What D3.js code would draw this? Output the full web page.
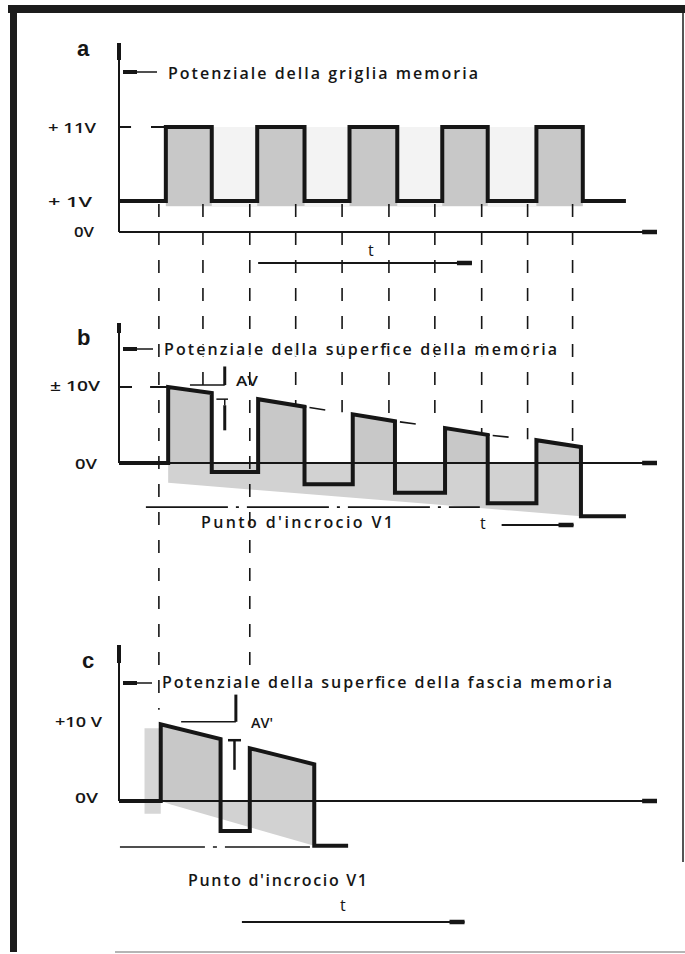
<!DOCTYPE html>
<html><head><meta charset="utf-8">
<script src="https://cdn.jsdelivr.net/npm/d3@7"></script>
<style>html,body{margin:0;padding:0;background:#fff;} svg{display:block}</style>
</head><body><svg id="c" width="685" height="954"></svg>
<script>
// ---------------- data ----------------
const panelLabels = ["a", "b", "c"];
const panelTitles = ["Potenziale della griglia memoria",
  "Potenziale della superfice della memoria",
  "Potenziale della superfice della fascia memoria"];
const aTickValues = [11, 1, 0];
const aTickLabels = ["+ 11V", "+ 1V", "0V"];
const bTickValues = [10, 0];
const bTickLabels = ["± 10V", "0V"];
const cTickValues = [10, 0];
const cTickLabels = ["+10 V", "0V"];
const crossLabel = "Punto d'incrocio V1";
const timeLabel = "t";

// panel a : grid potential (square wave, volts)
const aRise = [1.01, 2.98, 4.97, 6.97, 9.0];
const aFall = [2.0, 4.0, 6.0, 7.95, 10.0];
const aLow = 1, aHigh = 11, aEnd = 10.93;

// panel b : memory surface potential
const bRise = [1.06, 3.0, 5.04, 7.03, 9.0];
const bFall = [2.0, 4.0, 5.95, 7.95, 9.96];
const bTopStart = [10, 8.4, 6.4, 4.6, 3.0];
const bTopEnd = [9.2, 7.4, 5.5, 3.7, 2.1];
const bLow = [-1.2, -2.8, -3.9, -5.3, -7.0];
const bEnd = 10.93;
const bCross = -5.8;

// panel c : memory band surface potential
const cRise = [0.9, 2.82];
const cFall = [2.19, 4.21];
const cTopStart = [9.6, 6.6];
const cTopEnd = [7.75, 4.6];
const cLow = [-3.75, -5.6];
const cEnd = 4.94;
const cCross = -5.75;

// vertical dashed guide lines (time) and the two that reach panel c (volts in c)
const guideTimes = [0.86, 1.81, 2.82, 3.81, 4.81, 5.82, 6.81, 7.82, 8.81, 9.78];
const guideToC = [11.4, null, 17, null, null, null, null, null, null, null];

// ---------------- scales ----------------
const svg = d3.select("#c");
const x = d3.scaleLinear().domain([0, 11.6]).range([119, 657]);
const yA = d3.scaleLinear().domain([0, 1, 11]).range([232, 201, 127]);
const yB = d3.scaleLinear().domain([0, 10]).range([463, 387]);
const yC = d3.scaleLinear().domain([0, 10]).range([801, 721]);

const INK = "#161616", GREY = "#c8c8c8";
const FONT = "'Open Sans', 'Liberation Sans', Arial, sans-serif";
const FONT_B = "'Liberation Sans', Arial, sans-serif";

// ---------------- frame ----------------
svg.append("rect").attr("x", 8).attr("y", 5).attr("width", 677).attr("height", 8).attr("fill", "#1c1c1c");
svg.append("rect").attr("x", 10).attr("y", 12).attr("width", 7).attr("height", 940).attr("fill", "#1c1c1c");
svg.append("line").attr("x1", 683).attr("x2", 683).attr("y1", 13).attr("y2", 862).attr("stroke", "#555").attr("stroke-width", 2);
svg.append("line").attr("x1", 115).attr("x2", 685).attr("y1", 952).attr("y2", 952).attr("stroke", "#b5b5b5").attr("stroke-width", 2);

// ---------------- fills ----------------
const area = (y) => d3.line().x(d => x(d[0])).y(d => y(d[1]));
// a
svg.append("rect").attr("x", x(aRise[0])).attr("y", yA(aHigh)).attr("width", x(aFall[aFall.length-1]) - x(aRise[0]))
  .attr("height", yA(aLow) - yA(aHigh) + 6).attr("fill", "#f3f3f3");
aRise.forEach((r, i) => {
  svg.append("rect").attr("x", x(r)).attr("y", yA(aHigh)).attr("width", x(aFall[i]) - x(r))
    .attr("height", yA(aLow) - yA(aHigh) + 5).attr("fill", GREY);
});
// b
svg.append("path").attr("d", area(yB)([[bRise[0], 0], [bFall[4], 0], [bFall[4], bLow[4]], [bRise[0], -2.6]]) + "Z").attr("fill", "#d2d2d2");
bRise.forEach((r, i) => {
  svg.append("path").attr("d", area(yB)([[r, 0], [r, bTopStart[i]], [bFall[i], bTopEnd[i]], [bFall[i], 0]]) + "Z").attr("fill", GREY);
});
// c
svg.append("path").attr("d", area(yC)([[cRise[0] - 0.35, 9.1], [cRise[0], 9.1], [cRise[0], -1.6], [cRise[0] - 0.35, -1.6]]) + "Z").attr("fill", "#d6d6d6");
svg.append("path").attr("d", area(yC)([[cRise[0], 0], [cFall[1], 0], [cFall[1], cLow[1]], [cRise[0] + 0.2, -0.4]]) + "Z").attr("fill", "#d2d2d2");
cRise.forEach((r, i) => {
  svg.append("path").attr("d", area(yC)([[r, 0], [r, cTopStart[i]], [cFall[i], cTopEnd[i]], [cFall[i], 0]]) + "Z").attr("fill", GREY);
});

// ---------------- guides ----------------
const envB = t => bTopStart[0] + (bTopEnd[4] - bTopStart[0]) * (t - bRise[0]) / (bFall[4] - bRise[0]);
guideTimes.forEach((t, i) => {
  const y2 = guideToC[i] != null ? yC(guideToC[i]) : yB(envB(t));
  svg.append("line").attr("x1", x(t)).attr("x2", x(t)).attr("y1", yA(aLow) + 3).attr("y2", y2)
    .attr("stroke", INK).attr("stroke-width", 1.6).attr("stroke-dasharray", "13,15");
});
// dashed envelope between pulse tops in b
for (let i = 1; i < bRise.length - 1; i++) {
  svg.append("path").attr("d", area(yB)([[bFall[i], bTopEnd[i]], [bRise[i + 1], bTopStart[i + 1]]]))
    .attr("stroke", INK).attr("stroke-width", 1.6).attr("fill", "none").attr("stroke-dasharray", "2,3,16,40");
}
// level extensions
svg.append("path").attr("d", area(yA)([[0.69, aHigh], [aRise[0], aHigh]])).attr("stroke", INK).attr("stroke-width", 2);
svg.append("path").attr("d", area(yB)([[0.67, bTopStart[0]], [bRise[0], bTopStart[0]]])).attr("stroke", INK).attr("stroke-width", 2);
// crossing point (dash-dot)
svg.append("path").attr("d", area(yB)([[0.58, bCross], [7.78, bCross]])).attr("stroke", INK).attr("stroke-width", 1.6)
  .attr("stroke-dasharray", "82,8,3,8");
svg.append("path").attr("d", area(yC)([[0.02, cCross], [4.16, cCross]])).attr("stroke", INK).attr("stroke-width", 1.6)
  .attr("stroke-dasharray", "85,8,4,8");

// ---------------- axes ----------------
function axes(y, topPx, vTop) {
  svg.append("line").attr("x1", x(0)).attr("x2", x(0)).attr("y1", topPx).attr("y2", y(0)).attr("stroke", INK).attr("stroke-width", 2);
  svg.append("line").attr("x1", x(0)).attr("x2", x(0)).attr("y1", topPx).attr("y2", topPx + vTop).attr("stroke", INK).attr("stroke-width", 4);
  svg.append("line").attr("x1", x(0)).attr("x2", x(11.6)).attr("y1", y(0)).attr("y2", y(0)).attr("stroke", INK).attr("stroke-width", 2);
  svg.append("line").attr("x1", x(11.28)).attr("x2", x(11.6)).attr("y1", y(0)).attr("y2", y(0)).attr("stroke", INK).attr("stroke-width", 4.5);
}
axes(yA, 43, 17);
axes(yB, 323, 10);
axes(yC, 645, 18);
svg.append("line").attr("x1", x(0)).attr("x2", x(0.26)).attr("y1", yA(aHigh)).attr("y2", yA(aHigh)).attr("stroke", INK).attr("stroke-width", 2);
svg.append("line").attr("x1", x(0)).attr("x2", x(0.28)).attr("y1", yB(10)).attr("y2", yB(10)).attr("stroke", INK).attr("stroke-width", 2);

// title ticks
[[72, 157], [349, 153], [683, 152]].forEach(([yy, xe]) => {
  svg.append("line").attr("x1", 123).attr("x2", 137).attr("y1", yy).attr("y2", yy).attr("stroke", INK).attr("stroke-width", 4);
  svg.append("line").attr("x1", 135).attr("x2", xe).attr("y1", yy).attr("y2", yy).attr("stroke", INK).attr("stroke-width", 1.5);
});

// time arrows
function tArrow(yy, t1, t2) {
  svg.append("line").attr("x1", x(t1)).attr("x2", x(t2)).attr("y1", yy).attr("y2", yy).attr("stroke", INK).attr("stroke-width", 2);
  svg.append("line").attr("x1", x(t2) - 15).attr("x2", x(t2)).attr("y1", yy).attr("y2", yy).attr("stroke", INK).attr("stroke-width", 4.5);
}
tArrow(263, 3.0, 7.61);
tArrow(525, 8.25, 9.8);
tArrow(922, 2.65, 7.45);

// ---------------- waves ----------------
const aPts = [[0, aLow]];
aRise.forEach((r, i) => aPts.push([r, aLow], [r, aHigh], [aFall[i], aHigh], [aFall[i], aLow]));
aPts.push([aEnd, aLow]);
const bPts = [[0, 0]];
bRise.forEach((r, i) => bPts.push([r, i ? bLow[i - 1] : 0], [r, bTopStart[i]], [bFall[i], bTopEnd[i]], [bFall[i], bLow[i]]));
bPts.push([bEnd, bLow[bLow.length - 1]]);
const cPts = [[0, 0]];
cRise.forEach((r, i) => cPts.push([r, i ? cLow[i - 1] : 0], [r, cTopStart[i]], [cFall[i], cTopEnd[i]], [cFall[i], cLow[i]]));
cPts.push([cEnd, cLow[cLow.length - 1]]);
[[aPts, yA], [bPts, yB], [cPts, yC]].forEach(([p, y]) => {
  svg.append("path").attr("d", area(y)(p)).attr("fill", "none").attr("stroke", INK)
    .attr("stroke-width", 4).attr("stroke-linejoin", "miter");
});

// ---------------- ΔV markers ----------------
// b
svg.append("path").attr("d", area(yB)([[1.53, bTopStart[0] + 0.25], [2.28, bTopStart[0] + 0.25]])).attr("stroke", INK).attr("stroke-width", 1.5);
svg.append("path").attr("d", area(yB)([[2.28, 12.7], [2.28, bTopStart[0] + 0.25]])).attr("stroke", INK).attr("stroke-width", 3);
svg.append("path").attr("d", area(yB)([[2.1, bTopStart[1]], [2.35, bTopStart[1]]])).attr("stroke", INK).attr("stroke-width", 1.5);
svg.append("path").attr("d", area(yB)([[2.28, bTopStart[1]], [2.28, 7.6]])).attr("stroke", INK).attr("stroke-width", 1.5);
svg.append("path").attr("d", area(yB)([[2.28, 7.6], [2.28, 4.3]])).attr("stroke", INK).attr("stroke-width", 3);
// c
svg.append("path").attr("d", area(yC)([[1.34, 9.9], [2.52, 9.9]])).attr("stroke", INK).attr("stroke-width", 1.5);
svg.append("path").attr("d", area(yC)([[2.52, 13.3], [2.52, 9.9]])).attr("stroke", INK).attr("stroke-width", 3);
svg.append("path").attr("d", area(yC)([[2.35, cTopEnd[0] - 0.15], [2.63, cTopEnd[0] - 0.15]])).attr("stroke", INK).attr("stroke-width", 2.5);
svg.append("path").attr("d", area(yC)([[2.49, cTopEnd[0] - 0.15], [2.49, 3.9]])).attr("stroke", INK).attr("stroke-width", 2.5);

// ---------------- texts ----------------
function txt(s, xx, yy, opts = {}) {
  const t = svg.append("text").attr("x", xx).attr("y", yy).text(s)
    .attr("font-family", opts.family || FONT).attr("font-size", opts.size || 16)
    .attr("font-weight", opts.weight || 600).attr("fill", INK);
  if (opts.len) t.attr("textLength", opts.len).attr("lengthAdjust", opts.adj || "spacing");
  if (opts.anchor) t.attr("text-anchor", opts.anchor);
  if (opts.halo) t.attr("stroke", "#fff").attr("stroke-width", 3).attr("paint-order", "stroke");
  return t;
}
txt(panelLabels[0], 77, 56, {size: 22, family: FONT_B, weight: "bold"});
txt(panelLabels[1], 77, 345, {size: 22, family: FONT_B, weight: "bold"});
txt(panelLabels[2], 82, 668, {size: 22, family: FONT_B, weight: "bold"});
txt(panelTitles[0], 168, 79, {len: 310, halo: true});
txt(panelTitles[1], 164, 355, {len: 393, halo: true});
txt(panelTitles[2], 162, 688, {len: 450, halo: true});

const aLabelX = [[48, 48], [48, 44], [74, 20]];
aTickValues.forEach((v, i) => txt(aTickLabels[i], aLabelX[i][0], yA(v) + 6 - (v === 0 ? 1 : 0), {size: 15, len: aLabelX[i][1], adj: "spacingAndGlyphs"}));
const bLabelX = [[50, 50], [75, 22]];
bTickValues.forEach((v, i) => txt(bTickLabels[i], bLabelX[i][0], yB(v) + 4 + (v === 0 ? 2 : 0), {size: 15, len: bLabelX[i][1], adj: "spacingAndGlyphs"}));
const cLabelX = [[55, 47], [75, 23]];
cTickValues.forEach((v, i) => txt(cTickLabels[i], cLabelX[i][0], yC(v) + (v === 0 ? 2 : 6), {size: 15, len: cLabelX[i][1], adj: "spacingAndGlyphs"}));

txt("AV", 236, 386, {size: 15, len: 22, adj: "spacingAndGlyphs"});
txt("AV'", 251, 728, {size: 15, len: 22, adj: "spacingAndGlyphs"});
txt(crossLabel, 201, 528, {len: 192});
txt(crossLabel, 188, 886, {len: 179});
txt(timeLabel, 368, 256, {weight: 400});
txt(timeLabel, 480, 529, {weight: 400});
txt(timeLabel, 340, 911, {weight: 400});
</script></body></html>
